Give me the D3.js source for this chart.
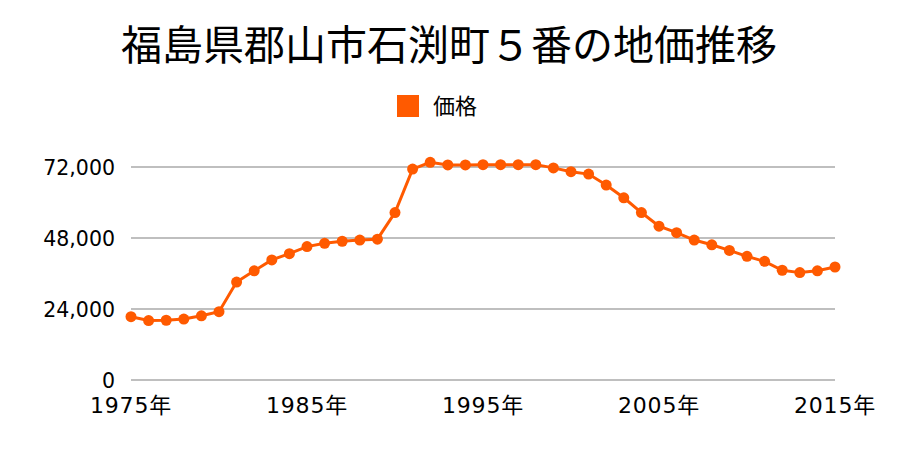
<!DOCTYPE html>
<html><head><meta charset="utf-8">
<script src="https://cdn.jsdelivr.net/npm/d3@7"></script>
<style>
body{margin:0;background:#fff;}
text{font-family:"Noto Sans CJK JP","Noto Sans",sans-serif;}
text.ax{font-family:"DejaVu Sans","Noto Sans CJK JP",sans-serif;}
</style></head>
<body>
<svg id="c" width="900" height="450"></svg>
<script>
const title = "福島県郡山市石渕町５番の地価推移";
const seriesName = "価格";
const years = d3.range(1975, 2016);
const prices = [21400,20100,20200,20600,21700,23100,33100,36900,40600,42700,45100,46200,46900,47300,47600,56600,71300,73600,72700,72700,72800,72800,72800,72800,71700,70400,69600,65900,61600,56600,52000,49800,47300,45700,43800,41800,40100,37100,36300,36900,38200];
const yTicks = [0,24000,48000,72000];
const xTicks = [1975,1985,1995,2005,2015];
const color = "#ff5a00";

const svg = d3.select("#c");
const x = d3.scaleLinear().domain([1975,2015]).range([131,835]);
const y = d3.scaleLinear().domain([0,72000]).range([380,167]);

svg.append("text").attr("x",449).attr("y",60).attr("text-anchor","middle")
  .attr("font-size",41).attr("fill","#000").text(title);

svg.append("rect").attr("x",397).attr("y",95).attr("width",22).attr("height",22).attr("fill",color);
svg.append("text").attr("x",433).attr("y",114).attr("font-size",22).attr("fill","#000").text(seriesName);

const g = svg.append("g");
g.selectAll("line.grid").data(yTicks).join("line")
  .attr("x1",131).attr("x2",835).attr("y1",d=>y(d)).attr("y2",d=>y(d))
  .attr("stroke","#aaaaaa").attr("stroke-width",1.5);

g.selectAll("text.yl").data(yTicks).join("text").attr("class","ax")
  .attr("x",115).attr("y",d=>y(d)+8).attr("text-anchor","end")
  .attr("font-size",20.5).attr("fill","#000").text(d=>d3.format(",")(d));

g.selectAll("text.xl").data(xTicks).join("text").attr("class","ax")
  .attr("x",d=>x(d)).attr("y",413).attr("text-anchor","middle")
  .attr("font-size",22).attr("letter-spacing",0.8).attr("fill","#000").text(d=>d+"年");

const line = d3.line().x((d,i)=>x(years[i])).y(d=>y(d));
svg.append("path").datum(prices).attr("d",line).attr("fill","none")
  .attr("stroke",color).attr("stroke-width",3);
svg.selectAll("circle").data(prices).join("circle")
  .attr("cx",(d,i)=>x(years[i])).attr("cy",d=>y(d)).attr("r",5.5).attr("fill",color);
</script>
</body></html>
